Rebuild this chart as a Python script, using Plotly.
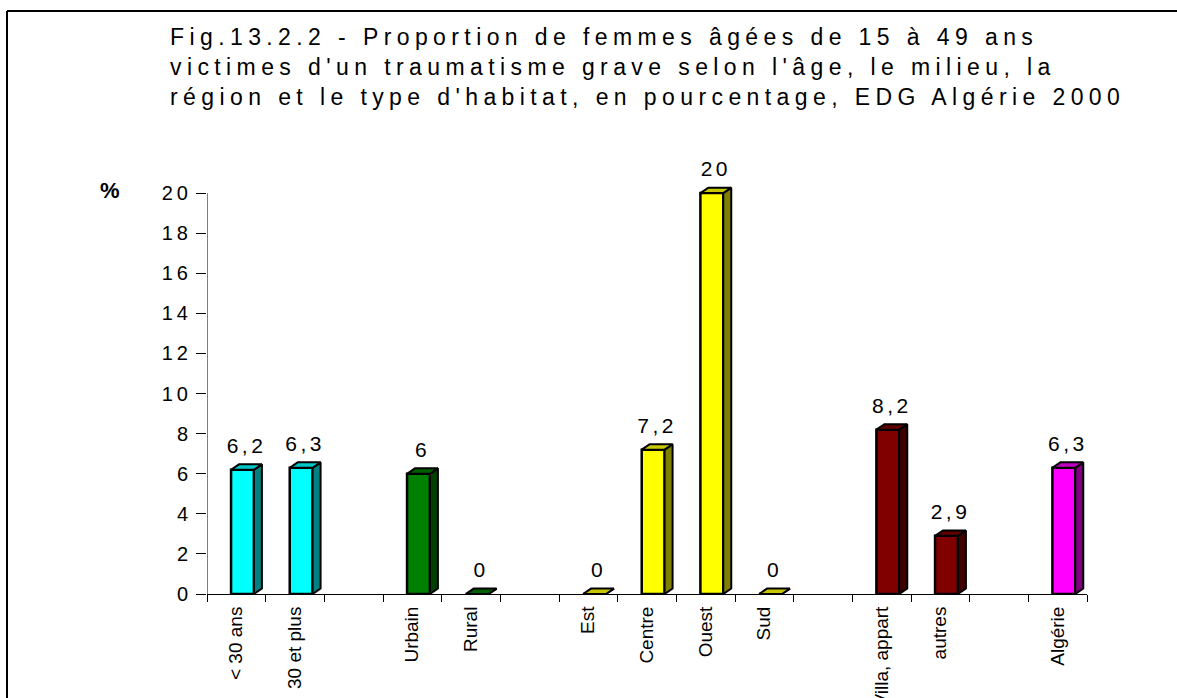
import plotly.graph_objects as go

# ---- data -------------------------------------------------------------
age_labels = ["< 30 ans", "30 et plus"]
age_values = [6.2, 6.3]

milieu_labels = ["Urbain", "Rural"]
milieu_values = [6, 0]

region_labels = ["Est", "Centre", "Ouest", "Sud"]
region_values = [0, 7.2, 20, 0]

habitat_labels = ["Villa, appart", "autres"]
habitat_values = [8.2, 2.9]

total_labels = ["Algérie"]
total_values = [6.3]

y_ticks = [0, 2, 4, 6, 8, 10, 12, 14, 16, 18, 20]

title_lines = [
    "Fig.13.2.2 - Proportion de femmes âgées de 15 à 49 ans",
    "victimes d'un traumatisme grave selon l'âge, le milieu, la",
    "région et le type d'habitat, en pourcentage, EDG Algérie 2000",
]

# ---- styles (front, side, top) per group ------------------------------
palette = [
    ("#00FFFF", "#008080", "#00C8C8"),
    ("#008000", "#004000", "#006000"),
    ("#FFFF00", "#808000", "#C8C800"),
    ("#800000", "#400000", "#600000"),
    ("#FF00FF", "#800080", "#C000C0"),
]

groups = [
    (age_labels, age_values),
    (milieu_labels, milieu_values),
    (region_labels, region_values),
    (habitat_labels, habitat_values),
    (total_labels, total_values),
]

FONT = "Liberation Sans, Arial, sans-serif"
BAR_OFFSET = -0.09   # left edge of the front face relative to slot centre
BAR_WIDTH = 0.39
DX, DY = 0.136, 0.27  # 3-D depth projection in axis units

fig = go.Figure()

tick_pos, tick_text = [], []
slot = 0
for (labels, values), (c_front, c_side, c_top) in zip(groups, palette):
    pos = list(range(slot, slot + len(labels)))
    slot += len(labels) + 1
    tick_pos += pos
    tick_text += labels

    # front faces
    fig.add_trace(go.Bar(
        x=pos, y=values, width=BAR_WIDTH, offset=BAR_OFFSET,
        marker=dict(color=c_front, line=dict(color="black", width=2.5)),
        hoverinfo="skip", showlegend=False,
    ))

    # side and top faces of the 3-D blocks
    sx, sy, tx, ty = [], [], [], []
    for p, v in zip(pos, values):
        x0 = p + BAR_OFFSET
        x1 = x0 + BAR_WIDTH
        sx += [x1, x1 + DX, x1 + DX, x1, x1, None]
        sy += [0, DY, v + DY, v, 0, None]
        tx += [x0, x0 + DX, x1 + DX, x1, x0, None]
        ty += [v, v + DY, v + DY, v, v, None]
    fig.add_trace(go.Scatter(
        x=sx, y=sy, mode="lines", fill="toself", fillcolor=c_side,
        line=dict(color="black", width=2), hoverinfo="skip", showlegend=False,
    ))
    fig.add_trace(go.Scatter(
        x=tx, y=ty, mode="lines", fill="toself", fillcolor=c_top,
        line=dict(color="black", width=2), hoverinfo="skip", showlegend=False,
    ))

    # value labels
    fig.add_trace(go.Scatter(
        x=[p + BAR_OFFSET + (BAR_WIDTH + DX) / 2 for p in pos],
        y=[v + DY + 0.3 for v in values],
        text=[f"{v:g}".replace(".", ",") for v in values],
        mode="text", textposition="top center",
        textfont=dict(family=FONT, size=21, color="black"),
        cliponaxis=False, hoverinfo="skip", showlegend=False,
    ))

n_slots = slot - 1
x_lo, x_hi = -0.5, n_slots - 0.5

# plot-area geometry in pixels
W, H = 1177, 698
ML, MR, MT, MB = 207, 90, 153, 104
PW, PH = W - ML - MR, H - MT - MB


def px(x):
    return (x - ML) / PW


def py(y):
    return (H - MB - y) / PH


shapes = [
    # vertical axis line up to the top tick
    dict(type="line", xref="x", yref="y", x0=x_lo, x1=x_lo, y0=0, y1=y_ticks[-1],
         line=dict(color="black", width=1)),
    # receding floor edge at the right end
    dict(type="line", xref="x", yref="y", x0=x_hi, x1=x_hi + 0.34, y0=0, y1=0.45,
         line=dict(color="black", width=1)),
    # chart frame
    dict(type="line", xref="paper", yref="paper", x0=px(7), x1=px(7),
         y0=py(H + 10), y1=py(11), line=dict(color="black", width=2)),
    dict(type="line", xref="paper", yref="paper", x0=px(7), x1=px(W + 10),
         y0=py(11), y1=py(11), line=dict(color="black", width=2)),
]

annotations = [
    dict(text=line, xref="paper", yref="paper", x=px(168), y=py(yc),
         xanchor="left", yanchor="middle", align="left", showarrow=False,
         font=dict(family=FONT, size=23, color="black"))
    for line, yc in zip(title_lines, [37, 67, 97])
]
annotations.append(dict(
    text="<b>%</b>", xref="paper", yref="paper", x=px(110), y=py(190),
    xanchor="center", yanchor="middle", showarrow=False,
    font=dict(family=FONT, size=22, color="black"),
))

fig.update_layout(
    template="none",
    width=W, height=H,
    margin=dict(l=ML, r=MR, t=MT, b=MB, pad=0),
    paper_bgcolor="white", plot_bgcolor="white",
    barmode="overlay",
    showlegend=False,
    xaxis=dict(
        range=[x_lo, x_hi], tickmode="array", tickvals=tick_pos, ticktext=tick_text,
        tickangle=-90, ticks="outside", ticklen=4, tickcolor="rgba(0,0,0,0)",
        tickfont=dict(family=FONT, size=19, color="black"),
        showgrid=False, zeroline=False, automargin=False,
        showline=True, linecolor="black", linewidth=1,
        minor=dict(tickmode="array", tickvals=[k - 0.5 for k in range(n_slots + 1)],
                   ticks="outside", ticklen=7, tickcolor="black", tickwidth=1,
                   showgrid=False),
    ),
    yaxis=dict(
        range=[0, 22], tickmode="array", tickvals=y_ticks,
        ticks="outside", ticklen=10, tickcolor="black", tickwidth=1,
        tickfont=dict(family=FONT, size=20, color="black"),
        showgrid=False, zeroline=False, showline=False, automargin=False,
    ),
    shapes=shapes,
    annotations=annotations,
)

# Excel-style widened character spacing for the title, ticks and value labels
spacing_js = """
document.querySelectorAll('.annotation-text').forEach(function(t){
  if (t.textContent.length > 3) { t.style.letterSpacing = '5.4px'; }
});
document.querySelectorAll('.textpoint text').forEach(function(t){ t.style.letterSpacing = '3.5px'; });
document.querySelectorAll('.ytick text').forEach(function(t){ t.style.letterSpacing = '4px'; });
"""

fig.write_html("out.html", post_script=spacing_js)
